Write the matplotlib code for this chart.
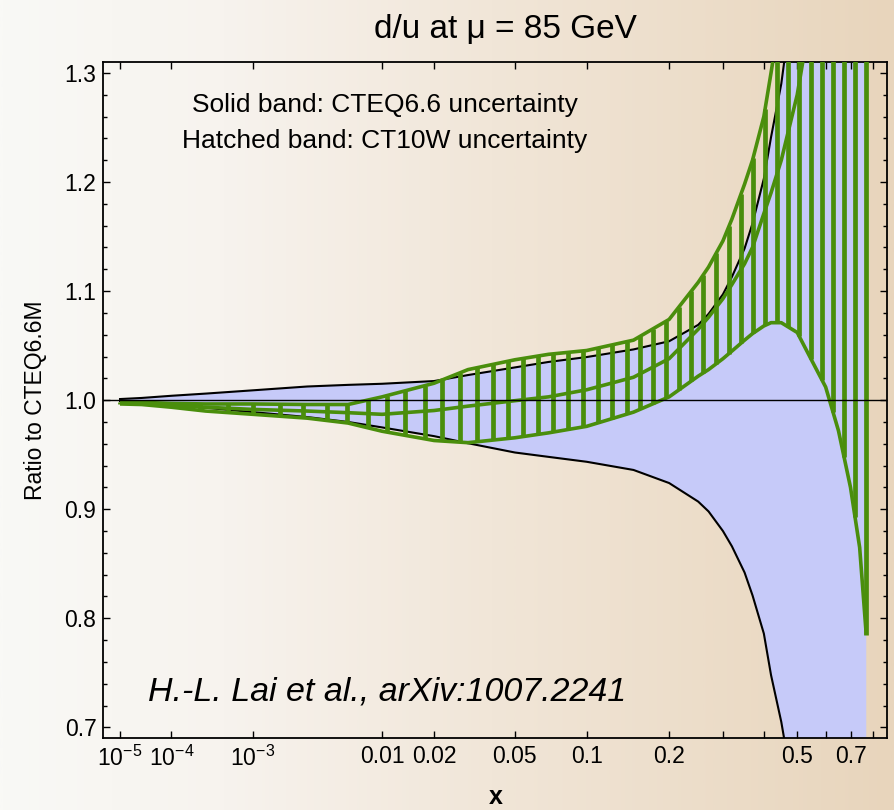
import numpy as np
import matplotlib
matplotlib.use("Agg")
import matplotlib.pyplot as plt
from matplotlib.colors import LinearSegmentedColormap
from matplotlib.ticker import FixedLocator, FixedFormatter, MultipleLocator, FormatStrFormatter

# ---------------- data ----------------
x_grid = [1e-5, 3e-5, 1e-4, 3e-4, 1e-3, 3e-3, 0.006, 0.01, 0.02, 0.03, 0.05, 0.07,
          0.1, 0.15, 0.2, 0.25, 0.27, 0.3, 0.32, 0.35, 0.37, 0.4, 0.42, 0.45,
          0.5, 0.55, 0.6, 0.65, 0.7, 0.74, 0.77]

# CTEQ6.6 uncertainty band (solid)
cteq66_upper = [1.001, 1.002, 1.004, 1.006, 1.009, 1.0125, 1.014, 1.015, 1.0175, 1.023, 1.030, 1.035,
                1.0395, 1.0465, 1.054, 1.069, 1.079, 1.097, 1.113, 1.139, 1.162, 1.203, 1.241, 1.29,
                1.40, 1.52, 1.65, 1.80, 1.95, 2.10, 2.20]
cteq66_lower = [0.999, 0.998, 0.996, 0.993, 0.989, 0.9845, 0.980, 0.975, 0.967, 0.9605, 0.952, 0.948,
                0.9435, 0.936, 0.924, 0.907, 0.898, 0.880, 0.866, 0.842, 0.821, 0.786, 0.748, 0.705,
                0.62, 0.52, 0.42, 0.30, 0.20, 0.10, 0.0]

# CT10W uncertainty band (hatched)
ct10w_upper = [0.9985, 0.998, 0.997, 0.9965, 0.9965, 0.996, 0.996, 1.003, 1.0155, 1.028, 1.037, 1.042,
               1.0455, 1.055, 1.074, 1.108, 1.122, 1.146, 1.166, 1.198, 1.22, 1.26, 1.30, 1.36,
               1.48, 1.60, 1.75, 1.90, 2.10, 2.25, 2.40]
ct10w_central = [0.9975, 0.997, 0.995, 0.9935, 0.9915, 0.990, 0.9885, 0.987, 0.9905, 0.9945, 0.9995, 1.003,
                 1.0095, 1.021, 1.038, 1.065, 1.076, 1.093, 1.106, 1.125, 1.14, 1.171, 1.19, 1.22,
                 1.28, 1.36, 1.45, 1.55, 1.70, 1.80, 1.90]
ct10w_lower = [0.9965, 0.996, 0.9935, 0.990, 0.987, 0.9835, 0.979, 0.9715, 0.963, 0.961, 0.9655, 0.970,
               0.976, 0.989, 1.003, 1.022, 1.028, 1.038, 1.045, 1.055, 1.061, 1.068, 1.071, 1.071,
               1.062, 1.036, 1.012, 0.972, 0.92, 0.865, 0.785]

# x positions of the vertical hatch bars
hatch_x = [1.0e-5, 3.5e-5, 1.02e-4, 2.54e-4, 5.5e-4, 1.003e-3, 1.785e-3, 2.782e-3, 4.252e-3, 5.904e-3,
           8.153e-3, 0.010735, 0.013746, 0.017852, 0.022063, 0.027351, 0.033236, 0.039657, 0.046546,
           0.05436, 0.063185, 0.073125, 0.084278, 0.096755, 0.11066, 0.12505, 0.14208, 0.1583, 0.17596,
           0.19517, 0.21601, 0.2368, 0.25918, 0.28528, 0.31343, 0.34137, 0.37124, 0.4032, 0.4373,
           0.47057, 0.5058, 0.54664, 0.58634, 0.62833, 0.67266, 0.71949, 0.77]

xtick_vals = [1e-5, 1e-4, 1e-3, 0.01, 0.02, 0.05, 0.1, 0.2, 0.5, 0.7]
xtick_labels = [r"$10^{-5}$", r"$10^{-4}$", r"$10^{-3}$", "0.01", "0.02", "0.05", "0.1", "0.2", "0.5", "0.7"]
xtick_extra = [0.3, 0.4, 0.6, 0.8]

# ---------------- style ----------------
plt.rcParams["font.family"] = ["Liberation Sans", "DejaVu Sans"]
plt.rcParams["mathtext.fontset"] = "custom"
plt.rcParams["mathtext.rm"] = "Liberation Sans"
plt.rcParams["mathtext.it"] = "Liberation Sans:italic"
plt.rcParams["mathtext.bf"] = "Liberation Sans:bold"

GREEN = "#4a8e0c"
BLUE = "#c6caf9"

fig = plt.figure(figsize=(8.94, 8.10), dpi=100)

# background gradient
bg = fig.add_axes([0, 0, 1, 1], zorder=-10)
bg.axis("off")
cmap = LinearSegmentedColormap.from_list(
    "bg", [(0.0, "#f9f9f6"), (0.25, "#f7f3ee"), (0.55, "#f1e6d8"), (1.0, "#e8d5bc")])
bg.imshow(np.linspace(0, 1, 512)[None, :], aspect="auto", cmap=cmap, extent=[0, 1, 0, 1])
bg.set_xlim(0, 1)
bg.set_ylim(0, 1)

ax = fig.add_axes([0.1156, 0.0885, 0.8762, 0.835])
ax.set_facecolor("none")
ax.set_xscale("function", functions=(lambda v: np.power(np.clip(v, 0, None), 0.2),
                                     lambda u: np.power(np.clip(u, 0, None), 5)))

xg = np.array(x_grid)
# solid CTEQ6.6 band
ax.fill_between(xg, cteq66_lower, cteq66_upper, color=BLUE, lw=0, zorder=1)
ax.plot(xg, cteq66_upper, color="black", lw=1.5, zorder=2)
ax.plot(xg, cteq66_lower, color="black", lw=1.5, zorder=2)

# hatched CT10W band
ug = xg ** 0.2
uh = np.array(hatch_x) ** 0.2
lo_h = np.interp(uh, ug, ct10w_lower)
hi_h = np.interp(uh, ug, ct10w_upper)
ax.vlines(hatch_x, lo_h, hi_h, color=GREEN, lw=3.4, zorder=3)
for s in (ct10w_upper, ct10w_central, ct10w_lower):
    ax.plot(xg, s, color=GREEN, lw=2.6, zorder=4, solid_capstyle="butt")

ax.axhline(1.0, color="black", lw=1.0, zorder=5)

ax.set_xlim(3.487e-6, 0.86896)
ax.set_ylim(0.69, 1.31)

ax.xaxis.set_major_locator(FixedLocator(xtick_vals))
ax.xaxis.set_major_formatter(FixedFormatter(xtick_labels))
ax.xaxis.set_minor_locator(FixedLocator(xtick_extra))
ax.yaxis.set_major_locator(MultipleLocator(0.1))
ax.yaxis.set_minor_locator(MultipleLocator(0.02))
ax.yaxis.set_major_formatter(FormatStrFormatter("%.1f"))

ax.tick_params(which="both", direction="in", top=True, right=True, width=1.0, colors="black")
ax.tick_params(axis="x", which="both", length=5)
ax.tick_params(axis="y", which="major", length=5)
ax.tick_params(axis="y", which="minor", length=3)
ax.tick_params(axis="both", which="major", labelsize=16.5, pad=5)
for sp in ax.spines.values():
    sp.set_linewidth(1.3)

fig.text(0.565, 0.963, "d/u at μ = 85 GeV", ha="center", va="center", fontsize=24)
fig.text(0.040, 0.506, "Ratio to CTEQ6.6M", ha="center", va="center", rotation=90, fontsize=16.5)
fig.text(0.554, 0.016, "x", ha="center", va="center", fontsize=18, fontweight="bold")

ax.text(0.3596, 0.9364, "Solid band: CTEQ6.6 uncertainty", transform=ax.transAxes,
        ha="center", va="center", fontsize=19)
ax.text(0.3596, 0.883, "Hatched band: CT10W uncertainty", transform=ax.transAxes,
        ha="center", va="center", fontsize=19)
ax.text(0.057, 0.0685, "H.-L. Lai et al., arXiv:1007.2241", transform=ax.transAxes,
        ha="left", va="center", fontsize=24.5, style="italic")

fig.savefig("out.png", dpi=100)
